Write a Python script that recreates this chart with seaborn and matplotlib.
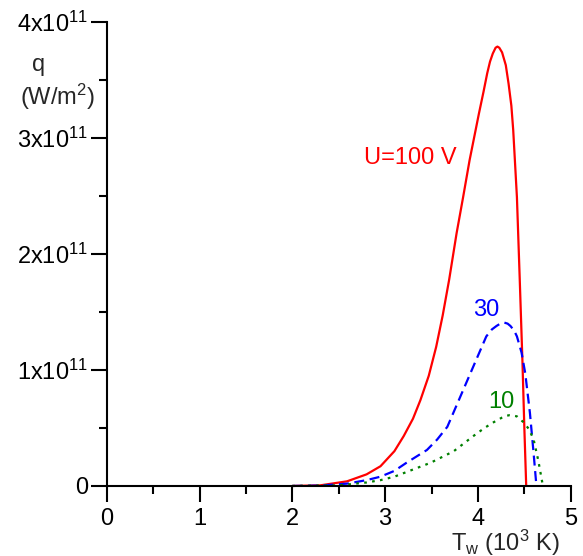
import numpy as np
import pandas as pd
import seaborn as sns
import matplotlib.pyplot as plt
from matplotlib.ticker import MultipleLocator

# ============================================
# DATA (q in 1e11 W/m2)
# ============================================

t_100 = [2.0, 2.3, 2.59, 2.8, 2.95, 3.1, 3.2, 3.3, 3.38, 3.47, 3.55, 3.62, 3.69, 3.77,
         3.84, 3.91, 4.01, 4.06, 4.1, 4.13, 4.16, 4.19, 4.21, 4.23, 4.26, 4.3, 4.33,
         4.36, 4.38, 4.42, 4.45, 4.48, 4.5, 4.52]
q_100 = [0.0, 0.005, 0.04, 0.1, 0.17, 0.3, 0.43, 0.58, 0.74, 0.95, 1.2, 1.47, 1.78, 2.18,
         2.49, 2.81, 3.21, 3.4, 3.56, 3.66, 3.73, 3.78, 3.79, 3.78, 3.74, 3.63, 3.47,
         3.28, 3.07, 2.49, 1.79, 1.06, 0.5, 0.0]

t_30 = [2.0, 2.3, 2.59, 2.8, 2.95, 3.1, 3.23, 3.45, 3.56, 3.67, 3.81, 3.95, 4.09, 4.15,
        4.2, 4.24, 4.28, 4.32, 4.35, 4.39, 4.42, 4.47, 4.51, 4.56, 4.6, 4.63]
q_30 = [0.0, 0.003, 0.02, 0.05, 0.08, 0.13, 0.2, 0.31, 0.4, 0.51, 0.77, 1.03, 1.29, 1.35,
        1.38, 1.4, 1.41, 1.4, 1.38, 1.34, 1.29, 1.15, 0.97, 0.63, 0.28, 0.0]

t_10 = [2.0, 2.5, 2.8, 2.95, 3.1, 3.23, 3.49, 3.74, 3.95, 4.07, 4.17, 4.26, 4.3, 4.34,
        4.38, 4.42, 4.49, 4.55, 4.6, 4.65, 4.7]
q_10 = [0.0, 0.005, 0.03, 0.05, 0.08, 0.12, 0.2, 0.3, 0.43, 0.5, 0.55, 0.59, 0.605, 0.61,
        0.607, 0.6, 0.55, 0.49, 0.4, 0.22, 0.0]

labels = ["U=100 V", "30", "10"]
colors = ["#ff0000", "#0000ff", "#008000"]

x_ticks = [0, 1, 2, 3, 4, 5]
y_ticks = [0, 1e11, 2e11, 3e11, 4e11]
y_tick_labels = ["0", "1x10$^{11}$", "2x10$^{11}$", "3x10$^{11}$", "4x10$^{11}$"]

# ============================================
# STYLE
# ============================================

sns.set_style("ticks")
plt.rcParams["font.family"] = ["Liberation Sans", "DejaVu Sans"]
plt.rcParams["mathtext.fontset"] = "custom"
plt.rcParams["mathtext.rm"] = "Liberation Sans"
plt.rcParams["mathtext.it"] = "Liberation Sans"
plt.rcParams["mathtext.default"] = "regular"

fig = plt.figure(figsize=(5.83, 5.56), dpi=100)
ax = fig.add_axes([0.183, 0.126, 0.796, 0.834])

# ============================================
# PLOT
# ============================================

series = [(t_100, q_100, "-"), (t_30, q_30, (0, (4.5, 2.5))), (t_10, q_10, (0, (1.2, 2.4)))]
for (t, q, ls), c in zip(series, colors):
    df = pd.DataFrame({"T": t, "q": np.array(q) * 1e11})
    sns.lineplot(data=df, x="T", y="q", ax=ax, color=c, linewidth=1.6,
                 linestyle=ls, sort=False, estimator=None, clip_on=False)

ax.text(3.27, 2.83e11, labels[0], color=colors[0], fontsize=17, ha="center", va="center")
ax.text(4.09, 1.52e11, labels[1], color=colors[1], fontsize=17, ha="center", va="center")
ax.text(4.25, 0.72e11, labels[2], color=colors[2], fontsize=17, ha="center", va="center")

ax.set_xlim(0, 5)
ax.set_ylim(0, 4e11)
ax.set_xticks(x_ticks)
ax.set_xticklabels([str(v) for v in x_ticks])
ax.set_yticks(y_ticks)
ax.set_yticklabels(y_tick_labels)
ax.xaxis.set_minor_locator(MultipleLocator(0.5))
ax.yaxis.set_minor_locator(MultipleLocator(0.5e11))

ax.tick_params(which="major", direction="out", length=11.5, width=1.5,
               labelsize=17, pad=2, color="black", labelcolor="black")
ax.tick_params(axis="x", which="major", pad=4.5)
ax.tick_params(which="minor", direction="out", length=5.5, width=1.5, color="black")

sns.despine(ax=ax)
for s in ["left", "bottom"]:
    ax.spines[s].set_linewidth(1.5)
    ax.spines[s].set_color("black")

ax.set_xlabel("")
ax.set_ylabel("")

fig.text(39 / 583, 1 - 65 / 556, "q", fontsize=17, ha="center", va="center")
fig.text(57 / 583, 1 - 97 / 556, "(W/m$^2$)", fontsize=17, ha="center", va="center")
fig.text(560 / 583, 1 - 551 / 556, "T$_w$ (10$^3$ K)", fontsize=17, ha="right", va="baseline")

plt.savefig("out.png", dpi=100)
